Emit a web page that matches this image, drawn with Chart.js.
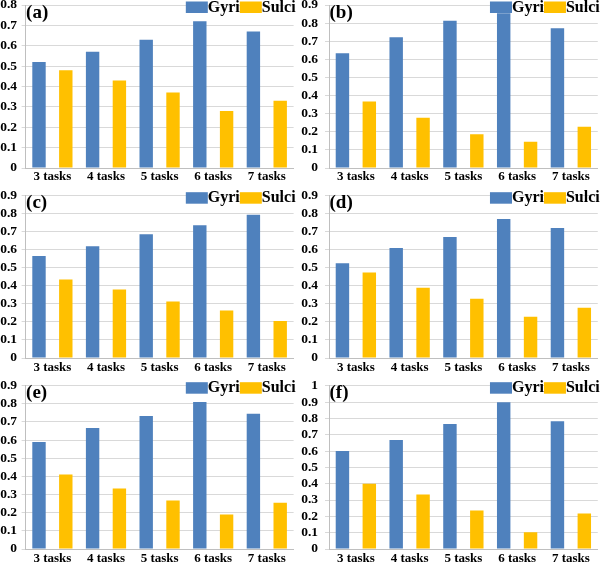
<!DOCTYPE html>
<html><head><meta charset="utf-8">
<script src="https://cdn.jsdelivr.net/npm/chart.js@4.4.0/dist/chart.umd.min.js"></script>
<style>
html,body{margin:0;padding:0;background:#fff;width:600px;height:564px;overflow:hidden;position:relative}
canvas{position:absolute}
</style></head><body>
<script>
// ---- data ----
const categories = ['3 tasks', '4 tasks', '5 tasks', '6 tasks', '7 tasks'];
const seriesNames = ['Gyri', 'Sulci'];
const yTickLabels = ['0', '0.1', '0.2', '0.3', '0.4', '0.5', '0.6', '0.7', '0.8', '0.9', '1'];

const gyriA = [0.52, 0.57, 0.63, 0.72, 0.67];
const sulciA = [0.48, 0.43, 0.37, 0.28, 0.33];
const gyriB = [0.633, 0.722, 0.813, 0.855, 0.772];
const sulciB = [0.367, 0.278, 0.187, 0.145, 0.228];
const gyriC = [0.565, 0.62, 0.686, 0.736, 0.795];
const sulciC = [0.435, 0.38, 0.314, 0.264, 0.205];
const gyriD = [0.526, 0.61, 0.671, 0.771, 0.721];
const sulciD = [0.474, 0.39, 0.329, 0.229, 0.279];
const gyriE = [0.59, 0.667, 0.733, 0.81, 0.745];
const sulciE = [0.41, 0.333, 0.267, 0.19, 0.255];
const gyriF = [0.6, 0.667, 0.765, 0.898, 0.782];
const sulciF = [0.4, 0.333, 0.235, 0.102, 0.218];

const panelLabels = ['(a)', '(b)', '(c)', '(d)', '(e)', '(f)'];
const yMaxes = [0.8, 0.9, 0.9, 0.9, 0.9, 1];

// ---- style ----
const GYRI = '#4f81bd', SULCI = '#ffc000';
const GRID = '#d9d9d9', AXIS = '#bfbfbf';
const FAMILY = '"Liberation Serif", "Times New Roman", serif';
Chart.defaults.font.family = FAMILY;
Chart.defaults.font.weight = 'bold';
Chart.defaults.font.size = 13;
Chart.defaults.color = '#000';

// layout boxes (plot area in page pixels)
const boxes = [
  {L: 25.6, R: 293.6, T: 5,     B: 168,   yPad: 4.6, xPad: 1},
  {L: 329,  R: 597.75, T: 5,    B: 168,   yPad: 7,   xPad: 1},
  {L: 25.6, R: 293.6, T: 195.7, B: 358.3, yPad: 4.6, xPad: 2},
  {L: 329,  R: 597.75, T: 195.7, B: 358.3, yPad: 7,  xPad: 2},
  {L: 25.6, R: 293.6, T: 385.7, B: 549,   yPad: 4.6, xPad: 2},
  {L: 329,  R: 597.75, T: 385.7, B: 549,  yPad: 7,   xPad: 2}
];
const gyriSeries = [gyriA, gyriB, gyriC, gyriD, gyriE, gyriF];
const sulciSeries = [sulciA, sulciB, sulciC, sulciD, sulciE, sulciF];

function overlay(label, left, top, right) {
  return {
    id: 'overlay',
    afterDraw(chart) {
      const ctx = chart.ctx;
      ctx.save();
      ctx.fillStyle = '#000';
      ctx.textAlign = 'left';
      ctx.textBaseline = 'alphabetic';
      ctx.font = 'bold 19px ' + FAMILY;
      ctx.fillText(label, left + 0.5, top + 12.5);
      ctx.font = 'bold 16px ' + FAMILY;
      const boxW = 22, boxH = 11.5, boxTop = top - 3.5;
      let x = right + 2;
      const ds = chart.data.datasets;
      for (let i = ds.length - 1; i >= 0; i--) {
        const tw = ctx.measureText(ds[i].label).width;
        x -= tw;
        ctx.fillStyle = '#000';
        ctx.fillText(ds[i].label, x, top + 6.5);
        x -= boxW;
        ctx.fillStyle = ds[i].backgroundColor;
        ctx.fillRect(x, boxTop, boxW, boxH);
      }
      ctx.restore();
    }
  };
}

boxes.forEach((p, k) => {
  const cx = Math.round(p.L) - 40, cy = Math.round(p.T) - 20;
  const w = Math.round(p.R - cx) + 12, h = Math.round(p.B - cy) + 30;
  const c = document.createElement('canvas');
  c.width = w; c.height = h;
  c.style.left = cx + 'px'; c.style.top = cy + 'px';
  c.style.width = w + 'px'; c.style.height = h + 'px';
  document.body.appendChild(c);
  new Chart(c, {
    type: 'bar',
    data: {
      labels: categories,
      datasets: [
        {label: seriesNames[0], data: gyriSeries[k], backgroundColor: GYRI},
        {label: seriesNames[1], data: sulciSeries[k], backgroundColor: SULCI}
      ]
    },
    options: {
      responsive: false,
      animation: false,
      devicePixelRatio: 1,
      layout: {padding: {left: 0, top: p.T - cy, right: w - (p.R - cx), bottom: 0}},
      datasets: {bar: {categoryPercentage: 1, barPercentage: 0.5}},
      plugins: {legend: {display: false}, tooltip: {enabled: false}},
      scales: {
        x: {
          grid: {display: false, drawTicks: false},
          border: {display: true, color: AXIS},
          ticks: {padding: p.xPad, maxRotation: 0, autoSkip: false, color: '#000', font: {size: 13}},
          afterFit: s => { s.height = 30; }
        },
        y: {
          min: 0, max: yMaxes[k],
          grid: {color: GRID, tickLength: 4},
          border: {display: true, color: AXIS},
          ticks: {stepSize: 0.1, autoSkip: false, padding: p.yPad, color: '#000', font: {size: 13.5},
                  callback: (v, i) => yTickLabels[i]},
          afterFit: s => { s.width = p.L - cx; }
        }
      }
    },
    plugins: [overlay(panelLabels[k], p.L - cx, p.T - cy, p.R - cx)]
  });
});
</script>
</body></html>
